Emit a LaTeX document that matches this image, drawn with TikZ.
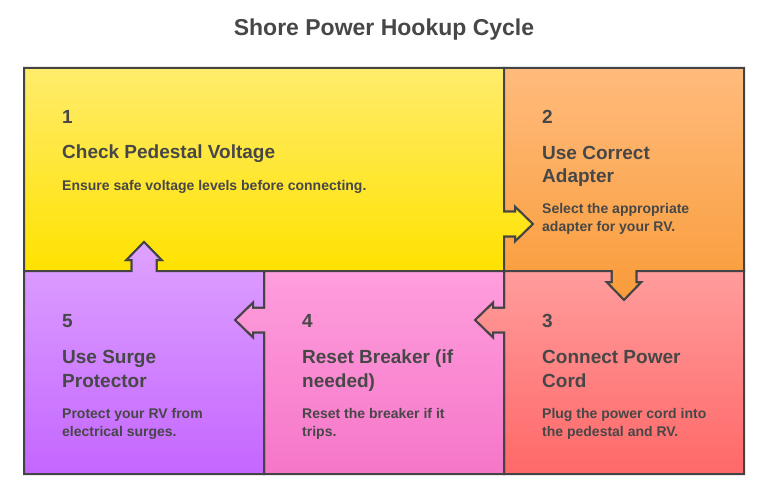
\documentclass[tikz,border=0pt]{standalone}
\usepackage{fontspec}
\setmainfont{Liberation Sans}

\definecolor{ink}{HTML}{474747}
\definecolor{edge}{HTML}{444444}
\definecolor{yellowT}{HTML}{FFEC6C}
\definecolor{yellowB}{HTML}{FFE200}
\definecolor{orangeT}{HTML}{FFBB7C}
\definecolor{orangeB}{HTML}{F99C3A}
\definecolor{salmonT}{HTML}{FF9C9C}
\definecolor{salmonB}{HTML}{FF6868}
\definecolor{pinkT}{HTML}{FF9EDD}
\definecolor{pinkB}{HTML}{F576C8}
\definecolor{violetT}{HTML}{DEA2FF}
\definecolor{violetB}{HTML}{C466FF}

\tikzset{
	box/.style={draw=edge,line width=2pt,line join=miter},
	num/.style={anchor=base west,inner sep=0pt,text=ink,font=\bfseries\fontsize{19}{24}\selectfont},
	head/.style={anchor=base west,inner sep=0pt,text=ink,align=left,font=\bfseries\fontsize{19}{24}\selectfont},
	desc/.style={anchor=base west,inner sep=0pt,text=ink,align=left,font=\bfseries\fontsize{14}{18}\selectfont},
}

\begin{document}
\begin{tikzpicture}[x=1pt,y=-1pt]
	\useasboundingbox (0,0) rectangle (768,489);
	\node[anchor=base,inner sep=0pt,text=ink,font=\bfseries\fontsize{23}{28}\selectfont] (title) at (384,36) {Shore Power Hookup Cycle};
	% step 1, tab into step 2
	\shadedraw[box,top color=yellowT,bottom color=yellowB]
	(24,68) -- (504,68) -- (504,211.5) -- (515,211.5) -- (515,206.5) -- (533,224) -- (515,241.5) -- (515,236.5) -- (504,236.5)
	-- (504,271) -- (156.5,271) -- (156.5,260) -- (161.5,260) -- (144,242) -- (126.5,260) -- (131.5,260) -- (131.5,271) -- (24,271) -- cycle;
	% step 2, tab into step 3
	\shadedraw[box,top color=orangeT,bottom color=orangeB]
	(504,68) -- (744,68) -- (744,271) -- (636.5,271) -- (636.5,282) -- (641.5,282) -- (624,300) -- (606.5,282) -- (611.5,282) -- (611.5,271)
	-- (504,271) -- (504,236.5) -- (515,236.5) -- (515,241.5) -- (533,224) -- (515,206.5) -- (515,211.5) -- (504,211.5) -- cycle;
	% step 3, tab into step 4
	\shadedraw[box,top color=salmonT,bottom color=salmonB]
	(504,271) -- (611.5,271) -- (611.5,282) -- (606.5,282) -- (624,300) -- (641.5,282) -- (636.5,282) -- (636.5,271) -- (744,271)
	-- (744,474) -- (504,474) -- (504,332.5) -- (493,332.5) -- (493,337.5) -- (475,320) -- (493,302.5) -- (493,307.5) -- (504,307.5) -- cycle;
	% step 4, tab into step 5
	\shadedraw[box,top color=pinkT,bottom color=pinkB]
	(264,271) -- (504,271) -- (504,307.5) -- (493,307.5) -- (493,302.5) -- (475,320) -- (493,337.5) -- (493,332.5) -- (504,332.5)
	-- (504,474) -- (264,474) -- (264,332.5) -- (253,332.5) -- (253,337.5) -- (235,320) -- (253,302.5) -- (253,307.5) -- (264,307.5) -- cycle;
	% step 5, tab into step 1
	\shadedraw[box,top color=violetT,bottom color=violetB]
	(24,271) -- (131.5,271) -- (131.5,260) -- (126.5,260) -- (144,242) -- (161.5,260) -- (156.5,260) -- (156.5,271) -- (264,271)
	-- (264,307.5) -- (253,307.5) -- (253,302.5) -- (235,320) -- (253,337.5) -- (253,332.5) -- (264,332.5) -- (264,474) -- (24,474) -- cycle;
	% texts (multi-line nodes sit on their last baseline)
	\foreach \i/\x/\y/\hy/\dy/\h/\d in {
		1/62/0/159/190/{Check Pedestal Voltage}/{Ensure safe voltage levels before connecting.},
		2/542/0/183/232/{Use Correct\\Adapter}/{Select the appropriate\\adapter for your RV.},
		3/542/204/387/436/{Connect Power\\Cord}/{Plug the power cord into\\the pedestal and RV.},
		4/302/204/387/436/{Reset Breaker (if\\needed)}/{Reset the breaker if it\\trips.},
		5/62/204/387/436/{Use Surge\\Protector}/{Protect your RV from\\electrical surges.}}
	{
		\node[num] (num\i) at (\x,123.5+\y) {\i};
		\node[head] (head\i) at (\x,\hy) {\h};
		\node[desc] (desc\i) at (\x,\dy) {\d};
	}
\end{tikzpicture}
\end{document}
